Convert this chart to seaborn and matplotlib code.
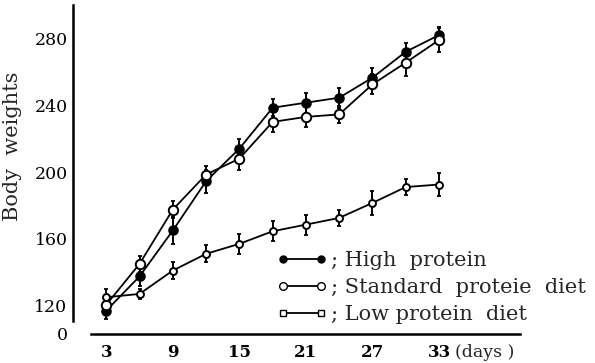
import numpy as np
import pandas as pd
import seaborn as sns
import matplotlib.pyplot as plt
from matplotlib.lines import Line2D

days = [3, 6, 9, 12, 15, 18, 21, 24, 27, 30, 33]
high = [117, 137.5, 165, 194.5, 214, 238.5, 241.5, 244.5, 256.5, 272, 282]
high_err = [5, 6, 8, 7, 6, 5, 6, 6, 6, 5, 5]
standard = [120.5, 145, 177.5, 198.5, 208, 230, 233, 234.5, 252.5, 265.5, 279]
standard_err = [5, 5, 5, 5, 7, 6, 6, 5, 6, 8, 7]
low = [125, 127, 141, 151, 157, 164.5, 168.5, 172.5, 181.5, 191, 192.5]
low_err = [5, 3, 5, 5, 6, 6, 6, 5, 7, 5, 7]

labels = ["; High  protein", "; Standard  proteie  diet", "; Low protein  diet"]
yticks = [120, 160, 200, 240, 280]
xticks = [3, 9, 15, 21, 27, 33]

sns.set_style("white")
plt.rcParams['font.family'] = ['DejaVu Serif']

fig = plt.figure(figsize=(5.95, 3.63), dpi=100)
ax = fig.add_axes([73/595, 1-334/363, 447/595, 329/363])

series = [
    (high, high_err, 'o', 'black', 6.2),
    (standard, standard_err, 'o', 'white', 6.8),
    (low, low_err, 'o', 'white', 5.0),
]
for vals, errs, mk, fc, ms in series:
    df = pd.DataFrame({'day': days, 'w': vals})
    ax.errorbar(days, vals, yerr=errs, fmt='none', ecolor='black',
                elinewidth=1.4, capsize=1.5, capthick=1.3, zorder=2)
    sns.lineplot(data=df, x='day', y='w', ax=ax, color='black', linewidth=1.3,
                 marker=mk, markersize=ms, markerfacecolor=fc,
                 markeredgecolor='black', markeredgewidth=1.4, zorder=3)

ax.set_xlim(0, 40.3)
ax.set_ylim(103, 300)

for s in ['top', 'right']:
    ax.spines[s].set_visible(False)
ax.spines['left'].set_bounds(111, 300)
ax.spines['bottom'].set_bounds(1.65, 40.3)
for s in ['left', 'bottom']:
    ax.spines[s].set_linewidth(1.8)
    ax.spines[s].set_color('black')

ax.set_xticks(xticks)
ax.set_xticklabels([str(v) for v in xticks])
ax.set_xticks([6, 12, 18, 24, 30, 36], minor=True)
ax.set_yticks([103] + yticks)
ax.set_yticklabels(['0'] + [str(v) for v in yticks])
ax.set_yticks([140, 180, 220, 260, 300], minor=True)
ax.tick_params(axis='both', which='major', direction='out',
               length=3, width=1.2, colors='black')
ax.tick_params(axis='x', which='major', pad=4, labelsize=12)
ax.tick_params(axis='y', which='major', pad=1, labelsize=12.5)
ax.tick_params(axis='both', which='minor', direction='out', length=2, width=1)
for t in ax.get_xticklabels():
    t.set_fontweight('bold')

ax.text(34.4, -0.03, "(days )", transform=ax.get_xaxis_transform(),
        ha='left', va='top', fontsize=12.5)

ax.set_xlabel("")
ax.set_ylabel("Body  weights", fontsize=15)
ax.yaxis.set_label_coords(-0.115, 0.57)

handles = [
    Line2D([0], [0], color='black', lw=1.3, marker='o', markersize=5,
           markerfacecolor='black', markeredgecolor='black'),
    Line2D([0], [0], color='black', lw=1.3, marker='o', markersize=5.5,
           markerfacecolor='white', markeredgecolor='black'),
    Line2D([0], [0], color='black', lw=1.3, marker='s', markersize=4.5,
           markerfacecolor='white', markeredgecolor='black'),
]
leg = ax.legend(handles, labels, loc='upper left',
                bbox_to_anchor=(277/595, 1-251/363), bbox_transform=fig.transFigure,
                frameon=False, numpoints=2, handlelength=2.4, handletextpad=0.2,
                labelspacing=0.39, borderpad=0, borderaxespad=0,
                prop={'size': 15, 'family': 'DejaVu Serif'})

fig.savefig("out.png", dpi=100)
